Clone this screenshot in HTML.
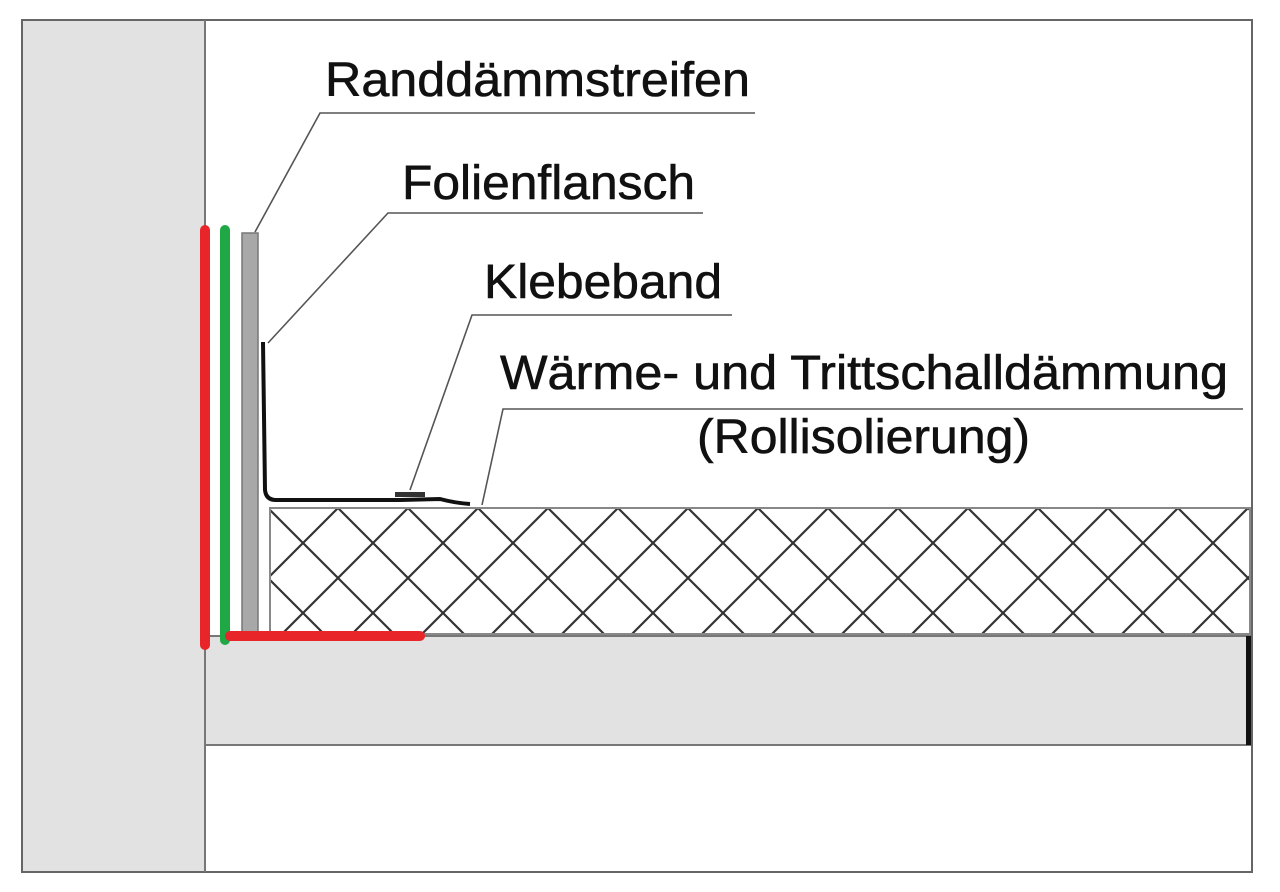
<!DOCTYPE html>
<html><head><meta charset="utf-8"><style>html,body{margin:0;padding:0;background:#fff}svg{display:block}</style></head>
<body>
<svg width="1280" height="892" viewBox="0 0 1280 892" xmlns="http://www.w3.org/2000/svg">
<defs>
<pattern id="h" patternUnits="userSpaceOnUse" x="23" y="-17" width="70" height="70">
<path d="M0 0L70 70M0 70L70 0M-5 65L5 75M65 -5L75 5M-5 5L5 -5M65 75L75 65" stroke="#333" stroke-width="2.2" fill="none"/>
</pattern>
</defs>
<rect x="0" y="0" width="1280" height="892" fill="#fff"/>
<rect x="22" y="20" width="1230" height="852" fill="#fff" stroke="#666" stroke-width="2"/>
<rect x="23" y="21" width="182" height="850" fill="#e2e2e2"/>
<line x1="205" y1="20" x2="205" y2="872" stroke="#777" stroke-width="2"/>
<rect x="205" y="636" width="1045" height="109" fill="#e2e2e2" stroke="#777" stroke-width="2"/>
<rect x="1246" y="636" width="5" height="109" fill="#111"/>
<rect x="270" y="508" width="980" height="126" fill="#fff"/>
<rect x="270" y="508" width="980" height="126" fill="url(#h)" stroke="#888" stroke-width="2"/>
<rect x="242" y="233" width="16" height="400" fill="#a8a8a8" stroke="#777" stroke-width="1.5"/>
<path d="M263 342 L265 490 Q266 500 276 500 L400 500 L440 499 Q455 503 470 504" stroke="#111" stroke-width="4" fill="none"/>
<rect x="395" y="492" width="30" height="5" fill="#333"/>
<line x1="205" y1="230" x2="205" y2="645" stroke="#e8262a" stroke-width="10" stroke-linecap="round"/>
<line x1="225" y1="230" x2="225" y2="640" stroke="#21a846" stroke-width="10" stroke-linecap="round"/>
<line x1="230" y1="636" x2="420" y2="636" stroke="#e8262a" stroke-width="10" stroke-linecap="round"/>
<g stroke="#555" stroke-width="1.6" fill="none">
<path d="M255 232 L320 113 L755 113"/>
<path d="M268 343 L388 213 L703 213"/>
<path d="M410 490 L472 315 L732 315"/>
<path d="M482 505 L503 409 L1243 409"/>
</g>
<g font-family="Liberation Sans, Arial, sans-serif" font-size="48" fill="#111" stroke="#111" stroke-width="0.6">
<text x="325" y="96" textLength="425" lengthAdjust="spacingAndGlyphs">Randdämmstreifen</text>
<text x="402" y="199" textLength="293" lengthAdjust="spacingAndGlyphs">Folienflansch</text>
<text x="484" y="298" textLength="238" lengthAdjust="spacingAndGlyphs">Klebeband</text>
<text x="500" y="389" textLength="728" lengthAdjust="spacingAndGlyphs">Wärme- und Trittschalldämmung</text>
<text x="697" y="453" textLength="333" lengthAdjust="spacingAndGlyphs">(Rollisolierung)</text>
</g>
</svg>
</body></html>
